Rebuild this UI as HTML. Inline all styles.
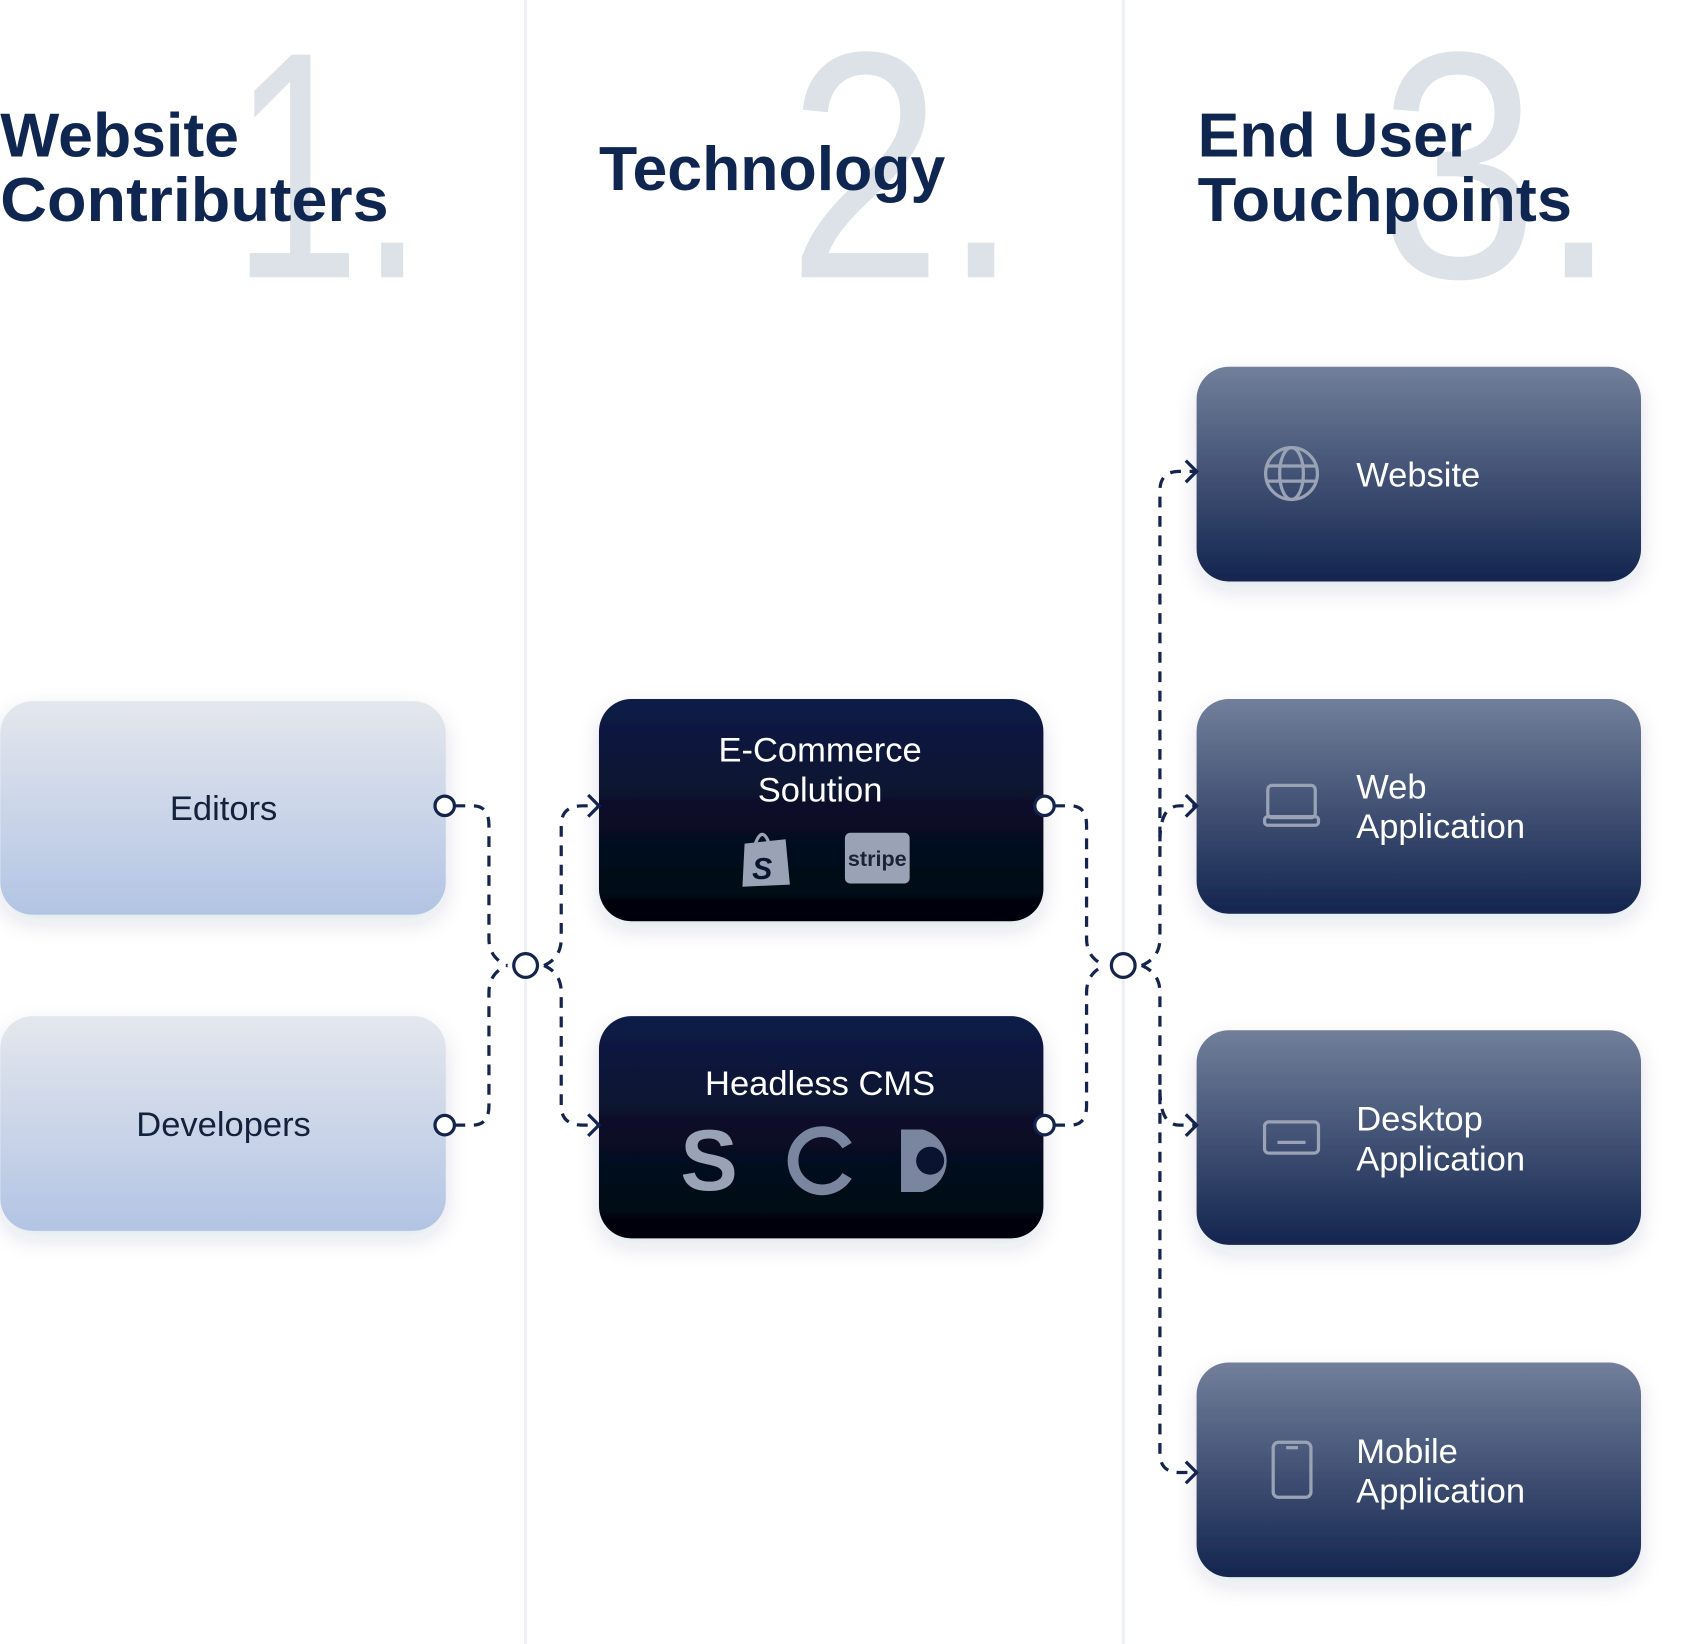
<!DOCTYPE html>
<html><head><meta charset="utf-8"><style>
html,body{margin:0;padding:0;background:#fff;width:1692px;height:1644px;overflow:hidden}
svg{display:block}
text{font-family:"Liberation Sans",sans-serif}
</style></head><body>
<svg width="1692" height="1644" viewBox="0 0 1568 1524" xmlns="http://www.w3.org/2000/svg">
<defs>
<linearGradient id="gl" x1="0" y1="0" x2="0" y2="1"><stop offset="0" stop-color="#e4e7ed"/><stop offset="1" stop-color="#b2c4e4"/></linearGradient>
<linearGradient id="gd" x1="0" y1="0" x2="0" y2="1"><stop offset="0" stop-color="#0f1c48"/><stop offset="1" stop-color="#01040b"/></linearGradient>
<linearGradient id="gr" x1="0" y1="0" x2="0" y2="1"><stop offset="0" stop-color="#717f9a"/><stop offset="1" stop-color="#13254f"/></linearGradient>
<filter id="sh" x="-10%" y="-10%" width="120%" height="130%"><feDropShadow dx="0" dy="8" stdDeviation="10" flood-color="#1a2a55" flood-opacity="0.12"/></filter>
</defs>
<rect x="485.5" y="0" width="3" height="1524" fill="#eef0f4"/>
<rect x="1039.5" y="0" width="3" height="1524" fill="#eef0f4"/>
<g fill="#dde1e8" font-size="300">
<text x="215" y="257" textLength="178" lengthAdjust="spacingAndGlyphs">1.</text>
<text x="730" y="257" textLength="215" lengthAdjust="spacingAndGlyphs">2.</text>
<text x="1278" y="257" textLength="222" lengthAdjust="spacingAndGlyphs">3.</text>
</g>
<g fill="#0f2650" font-weight="bold" font-size="58">
<text x="0" y="145">Website</text><text x="0" y="205" textLength="360" lengthAdjust="spacingAndGlyphs">Contributers</text>
<text x="555" y="176">Technology</text>
<text x="1110" y="145">End User</text><text x="1110" y="205" textLength="347" lengthAdjust="spacingAndGlyphs">Touchpoints</text>
</g>
<g filter="url(#sh)">
<rect x="0" y="650" width="413" height="198" rx="30" fill="url(#gl)"/>
<rect x="0" y="942" width="413" height="199" rx="30" fill="url(#gl)"/>
<rect x="555" y="648" width="412" height="206" rx="30" fill="url(#gd)"/>
<rect x="555" y="942" width="412" height="206" rx="30" fill="url(#gd)"/>
<rect x="1109" y="340" width="412" height="199" rx="30" fill="url(#gr)"/>
<rect x="1109" y="648" width="412" height="199" rx="30" fill="url(#gr)"/>
<rect x="1109" y="955" width="412" height="199" rx="30" fill="url(#gr)"/>
<rect x="1109" y="1263" width="412" height="199" rx="30" fill="url(#gr)"/>
</g>
<g fill="#13213c" font-size="32" text-anchor="middle">
<text x="207" y="760">Editors</text>
<text x="207" y="1053">Developers</text>
</g>
<g fill="#fff" font-size="32" text-anchor="middle">
<text x="760" y="706">E-Commerce</text><text x="760" y="743">Solution</text>
<text x="760" y="1015">Headless CMS</text>
</g>
<g fill="#fff" font-size="32">
<text x="1257" y="451">Website</text>
<text x="1257" y="740">Web</text><text x="1257" y="777">Application</text>
<text x="1257" y="1048">Desktop</text><text x="1257" y="1085">Application</text>
<text x="1257" y="1356">Mobile</text><text x="1257" y="1393">Application</text>
</g>
<path d="M690 782 L728 778 L732 820 L688 822 Z" fill="#9aa3b5"/>
<path d="M700 782 q6 -16 12 -2" stroke="#9aa3b5" stroke-width="3" fill="none"/>
<text x="697" y="815" font-size="28" font-weight="bold" fill="#0a1330" font-style="italic">S</text>
<rect x="783" y="772" width="60" height="47" rx="5" fill="#9aa3b5"/>
<text x="813" y="803" font-size="20" font-weight="bold" fill="#1a2338" text-anchor="middle">stripe</text>
<text x="657" y="1103" font-size="80" font-weight="bold" fill="#9aa3b5" text-anchor="middle">S</text>
<path d="M785 1062 A27 27 0 1 0 785 1090" stroke="#7a869f" stroke-width="10" fill="none"/>
<path d="M835 1047 h20 a30 30 0 0 1 0 58 h-20 Z" fill="#7a869f"/>
<circle cx="862" cy="1076" r="13" fill="#0a1330"/>
<g stroke="#9aa3b5" stroke-width="3" fill="none">
<circle cx="1197" cy="439" r="24"/><ellipse cx="1197" cy="439" rx="11" ry="24"/><line x1="1173" y1="432" x2="1221" y2="432"/><line x1="1173" y1="446" x2="1221" y2="446"/>
<rect x="1175" y="728" width="44" height="30" rx="4"/><rect x="1172" y="757" width="50" height="8" rx="3"/>
<rect x="1172" y="1040" width="50" height="29" rx="4"/><line x1="1184" y1="1059" x2="1210" y2="1059"/>
<rect x="1180" y="1337" width="35" height="51" rx="5"/><line x1="1192" y1="1342" x2="1203" y2="1342"/>
</g>
<g stroke="#14244d" stroke-width="3" fill="none" stroke-dasharray="10 8">
<path d="M421 747 H438 Q453 747 453 765 V870 Q453 888 470 895"/>
<path d="M421 1043 H438 Q453 1043 453 1025 V920 Q453 902 470 895"/>
<path d="M504 895 Q520 888 520 870 V765 Q520 747 540 747 H553"/>
<path d="M504 895 Q520 902 520 920 V1025 Q520 1043 540 1043 H553"/>
<path d="M977 747 H992 Q1007 747 1007 765 V870 Q1007 888 1024 895"/>
<path d="M977 1043 H992 Q1007 1043 1007 1025 V920 Q1007 902 1024 895"/>
<path d="M1058 895 Q1075 888 1075 870 V455 Q1075 437 1093 437 H1107"/>
<path d="M1075 780 Q1075 747 1093 747 H1107"/>
<path d="M1058 895 Q1075 902 1075 920 V1347 Q1075 1365 1093 1365 H1107"/>
<path d="M1075 1010 Q1075 1043 1093 1043 H1107"/>
</g>
<g stroke="#14244d" stroke-width="3" fill="none">
<path d="M545 737 L555 747 L545 757"/><path d="M545 1033 L555 1043 L545 1053"/>
<path d="M1099 427 L1109 437 L1099 447"/><path d="M1099 737 L1109 747 L1099 757"/>
<path d="M1099 1033 L1109 1043 L1099 1053"/><path d="M1099 1355 L1109 1365 L1099 1375"/>
</g>
<g stroke="#14244d" stroke-width="3" fill="#fff">
<circle cx="412" cy="747" r="9"/><circle cx="412" cy="1043" r="9"/>
<circle cx="968" cy="747" r="9"/><circle cx="968" cy="1043" r="9"/>
<circle cx="487" cy="895" r="11"/><circle cx="1041" cy="895" r="11"/>
</g>
</svg>
</body></html>
